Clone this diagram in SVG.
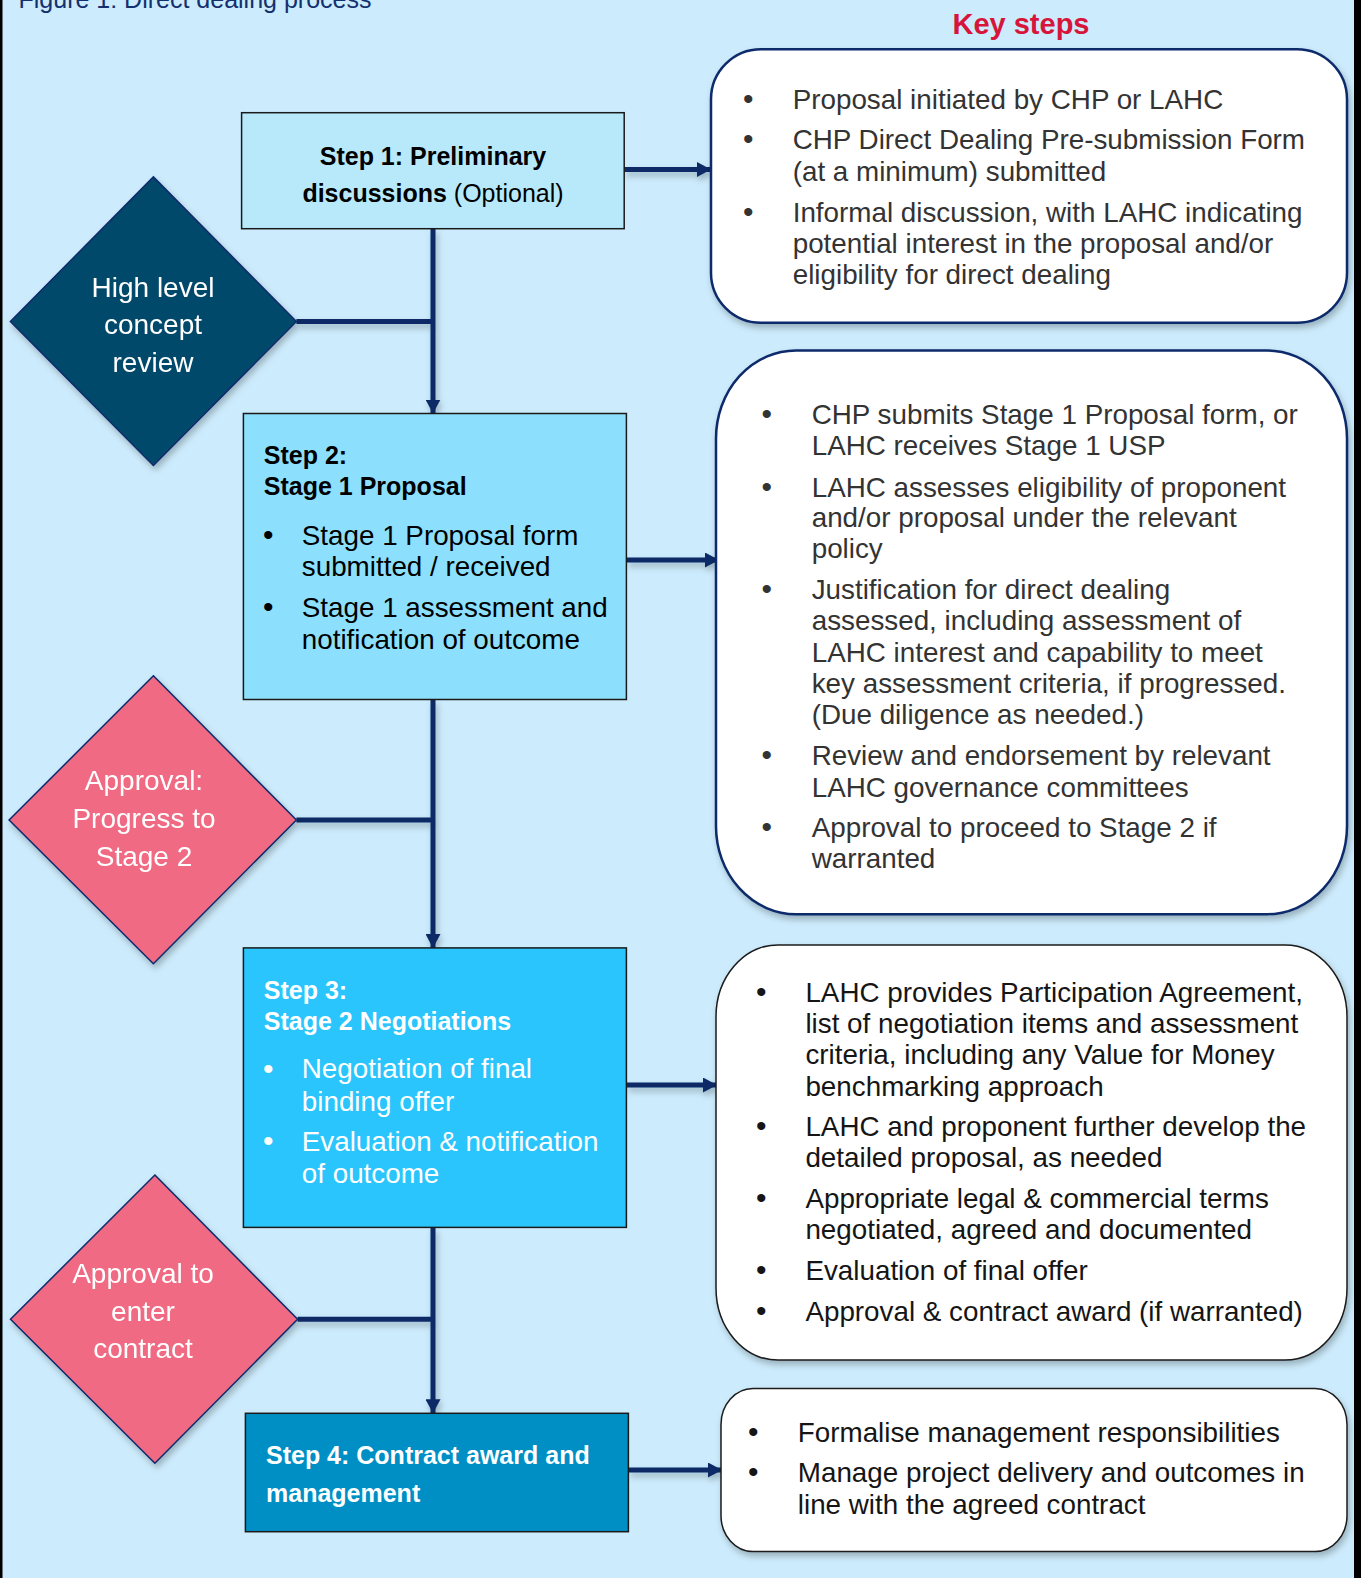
<svg xmlns="http://www.w3.org/2000/svg" width="1361" height="1578" viewBox="0 0 1361 1578">
  <style>
    text { font-family: "Liberation Sans", Arial, sans-serif; }
    .reg { font-size: 27.8px; }
    .bold { font-size: 25px; font-weight: bold; }
    .dia { font-size: 28px; fill: #ffffff; text-anchor: middle; }
    .rtxt { font-size: 27.8px; fill: #333333; }
    .rtxt2 { font-size: 27.8px; fill: #151515; }
    .bul { font-size: 30px; }
    .conn { stroke: #0B2A66; stroke-width: 5; fill: none; }
    .step { stroke: #1a1a1a; stroke-width: 1.5; }
    .key1 { fill: #ffffff; stroke: #0D2A6B; stroke-width: 2.5; }
    .key2 { fill: #ffffff; stroke: #1a1a1a; stroke-width: 1.5; }
    .dshape { stroke: #0D2A6B; stroke-width: 1.5; }
  </style>
  <defs>
    <marker id="arrow" markerUnits="userSpaceOnUse" markerWidth="15" markerHeight="15" refX="14" refY="7.5" orient="auto">
      <path d="M0,0 L14,7.5 L0,15 z" fill="#0B2A66"/>
    </marker>
    <filter id="shadow" x="-10%" y="-10%" width="125%" height="125%">
      <feDropShadow dx="2" dy="4" stdDeviation="3" flood-color="#000000" flood-opacity="0.25"/>
    </filter>
  </defs>

  <!-- background -->
  <rect x="0" y="0" width="1361" height="1578" fill="#CCEBFC"/>
  <rect x="0" y="0" width="2.5" height="1578" fill="#000000"/>
  <rect x="1354" y="0" width="7" height="1578" fill="#000000"/>

  <text x="18.5" y="8" font-size="25" fill="#14306E">Figure 1: Direct dealing process</text>
  <text x="1021" y="34" font-size="29" font-weight="bold" fill="#D7153A" text-anchor="middle">Key steps</text>

  <!-- connectors -->
  <g id="connectors" filter="url(#shadow)">
    <line class="conn" x1="433" y1="228.5" x2="433" y2="413.5" marker-end="url(#arrow)"/>
    <line class="conn" x1="433" y1="699.5" x2="433" y2="948" marker-end="url(#arrow)"/>
    <line class="conn" x1="433" y1="1227.3" x2="433" y2="1413.3" marker-end="url(#arrow)"/>
    <line class="conn" x1="296.4" y1="321.5" x2="433" y2="321.5"/>
    <line class="conn" x1="296.4" y1="820" x2="433" y2="820"/>
    <line class="conn" x1="297.6" y1="1319.3" x2="433" y2="1319.3"/>
    <line class="conn" x1="624.2" y1="169.5" x2="711" y2="169.5" marker-end="url(#arrow)"/>
    <line class="conn" x1="626.5" y1="560" x2="719" y2="560" marker-end="url(#arrow)"/>
    <line class="conn" x1="626.5" y1="1085" x2="717" y2="1085" marker-end="url(#arrow)"/>
    <line class="conn" x1="628.4" y1="1470" x2="722" y2="1470" marker-end="url(#arrow)"/>
  </g>

  <!-- Step 1 -->
  <g id="step1">
    <rect class="step" x="241.6" y="112.7" width="382.6" height="116" fill="#B7E9FB"/>
    <text x="433" y="165" class="bold" text-anchor="middle" fill="#000">Step 1: Preliminary</text>
    <text x="433" y="201.7" text-anchor="middle" fill="#000"><tspan class="bold">discussions</tspan><tspan font-size="25"> (Optional)</tspan></text>
  </g>

  <!-- Diamond 1 -->
  <g id="review" filter="url(#shadow)">
    <polygon class="dshape" points="153.4,176.9 296.4,321.5 153.4,465.5 10.4,321.5" fill="#044A6B"/>
    <text class="dia" x="153" y="296.5">High level</text>
    <text class="dia" x="153" y="334">concept</text>
    <text class="dia" x="153" y="371.5">review</text>
  </g>

  <!-- Step 2 -->
  <g id="step2">
    <rect class="step" x="243.4" y="413.5" width="383" height="286" fill="#8DE0FD"/>
    <text x="263.8" y="464.4" class="bold" fill="#000">Step 2:</text>
    <text x="263.8" y="495.4" class="bold" fill="#000">Stage 1 Proposal</text>
    <g class="reg" fill="#000">
      <text class="bul" x="263" y="545">•</text>
      <text x="301.8" y="544.7">Stage 1 Proposal form</text>
      <text x="301.8" y="576.3">submitted / received</text>
      <text class="bul" x="263" y="617.3">•</text>
      <text x="301.8" y="617">Stage 1 assessment and</text>
      <text x="301.8" y="648.7">notification of outcome</text>
    </g>
  </g>

  <!-- Diamond 2 -->
  <g id="approval1" filter="url(#shadow)">
    <polygon class="dshape" points="153.4,675.8 296.4,820 153.4,963.7 9.1,820" fill="#EF6A82"/>
    <text class="dia" x="144" y="789.7">Approval:</text>
    <text class="dia" x="144" y="828">Progress to</text>
    <text class="dia" x="144" y="865.6">Stage 2</text>
  </g>

  <!-- Step 3 -->
  <g id="step3">
    <rect class="step" x="243.4" y="947.9" width="383" height="279.5" fill="#29C5FC"/>
    <text x="263.8" y="999.3" class="bold" fill="#fff">Step 3:</text>
    <text x="263.8" y="1029.7" class="bold" fill="#fff">Stage 2 Negotiations</text>
    <g class="reg" fill="#fff">
      <text class="bul" x="263" y="1078.6">•</text>
      <text x="301.8" y="1078.3">Negotiation of final</text>
      <text x="301.8" y="1110.8">binding offer</text>
      <text class="bul" x="263" y="1151.4">•</text>
      <text x="301.8" y="1151.1">Evaluation &amp; notification</text>
      <text x="301.8" y="1182.7">of outcome</text>
    </g>
  </g>

  <!-- Diamond 3 -->
  <g id="approval2" filter="url(#shadow)">
    <polygon class="dshape" points="154.9,1175 297.6,1319.3 154.9,1463.3 10.5,1319.3" fill="#EF6A82"/>
    <text class="dia" x="143" y="1283.3">Approval to</text>
    <text class="dia" x="143" y="1320.7">enter</text>
    <text class="dia" x="143" y="1358.3">contract</text>
  </g>

  <!-- Step 4 -->
  <g id="step4">
    <rect class="step" x="245.4" y="1413.3" width="383" height="118.4" fill="#008FC5"/>
    <text x="266" y="1464" class="bold" fill="#fff" font-size="25.5">Step 4: Contract award and</text>
    <text x="266" y="1501.7" class="bold" fill="#fff" font-size="25.5">management</text>
  </g>

  <!-- Key steps box 1 -->
  <g id="keys1">
    <rect class="key1" x="711" y="49.3" width="636" height="273.4" rx="50" ry="50" filter="url(#shadow)"/>
    <g class="rtxt">
      <text class="bul" x="743" y="109">•</text>
      <text x="792.7" y="108.7">Proposal initiated by CHP or LAHC</text>
      <text class="bul" x="743" y="149.3">•</text>
      <text x="792.7" y="149">CHP Direct Dealing Pre-submission Form</text>
      <text x="792.7" y="181">(at a minimum) submitted</text>
      <text class="bul" x="743" y="221.8">•</text>
      <text x="792.7" y="221.5">Informal discussion, with LAHC indicating</text>
      <text x="792.7" y="252.5">potential interest in the proposal and/or</text>
      <text x="792.7" y="283.5">eligibility for direct dealing</text>
    </g>
  </g>

  <!-- Key steps box 2 -->
  <g id="keys2">
    <rect class="key1" x="716" y="350.4" width="631" height="563.8" rx="80" ry="88" filter="url(#shadow)"/>
    <g class="rtxt">
      <text class="bul" x="761.5" y="424.3">•</text>
      <text x="811.7" y="424">CHP submits Stage 1 Proposal form, or</text>
      <text x="811.7" y="455.2">LAHC receives Stage 1 USP</text>
      <text class="bul" x="761.5" y="497">•</text>
      <text x="811.7" y="496.7">LAHC assesses eligibility of proponent</text>
      <text x="811.7" y="527.2">and/or proposal under the relevant</text>
      <text x="811.7" y="557.6">policy</text>
      <text class="bul" x="761.5" y="599.3">•</text>
      <text x="811.7" y="599">Justification for direct dealing</text>
      <text x="811.7" y="630">assessed, including assessment of</text>
      <text x="811.7" y="661.8">LAHC interest and capability to meet</text>
      <text x="811.7" y="693.1">key assessment criteria, if progressed.</text>
      <text x="811.7" y="724.2">(Due diligence as needed.)</text>
      <text class="bul" x="761.5" y="765.2">•</text>
      <text x="811.7" y="764.9">Review and endorsement by relevant</text>
      <text x="811.7" y="796.8">LAHC governance committees</text>
      <text class="bul" x="761.5" y="837">•</text>
      <text x="811.7" y="836.7">Approval to proceed to Stage 2 if</text>
      <text x="811.7" y="868">warranted</text>
    </g>
  </g>

  <!-- Key steps box 3 -->
  <g id="keys3">
    <rect class="key2" x="716" y="945" width="631" height="415" rx="62" ry="72" filter="url(#shadow)"/>
    <g class="rtxt2">
      <text class="bul" x="756" y="1002.3">•</text>
      <text x="805.4" y="1002">LAHC provides Participation Agreement,</text>
      <text x="805.4" y="1032.5">list of negotiation items and assessment</text>
      <text x="805.4" y="1064">criteria, including any Value for Money</text>
      <text x="805.4" y="1095.5">benchmarking approach</text>
      <text class="bul" x="756" y="1136.3">•</text>
      <text x="805.4" y="1136">LAHC and proponent further develop the</text>
      <text x="805.4" y="1167">detailed proposal, as needed</text>
      <text class="bul" x="756" y="1207.8">•</text>
      <text x="805.4" y="1207.5">Appropriate legal &amp; commercial terms</text>
      <text x="805.4" y="1238.5">negotiated, agreed and documented</text>
      <text class="bul" x="756" y="1280.3">•</text>
      <text x="805.4" y="1280">Evaluation of final offer</text>
      <text class="bul" x="756" y="1321.3">•</text>
      <text x="805.4" y="1321">Approval &amp; contract award (if warranted)</text>
    </g>
  </g>

  <!-- Key steps box 4 -->
  <g id="keys4">
    <rect class="key2" x="721" y="1388.5" width="626" height="163" rx="32" ry="36" filter="url(#shadow)"/>
    <g class="rtxt2">
      <text class="bul" x="748" y="1442.3">•</text>
      <text x="797.8" y="1442">Formalise management responsibilities</text>
      <text class="bul" x="748" y="1482.3">•</text>
      <text x="797.8" y="1482">Manage project delivery and outcomes in</text>
      <text x="797.8" y="1513.5">line with the agreed contract</text>
    </g>
  </g>
</svg>
